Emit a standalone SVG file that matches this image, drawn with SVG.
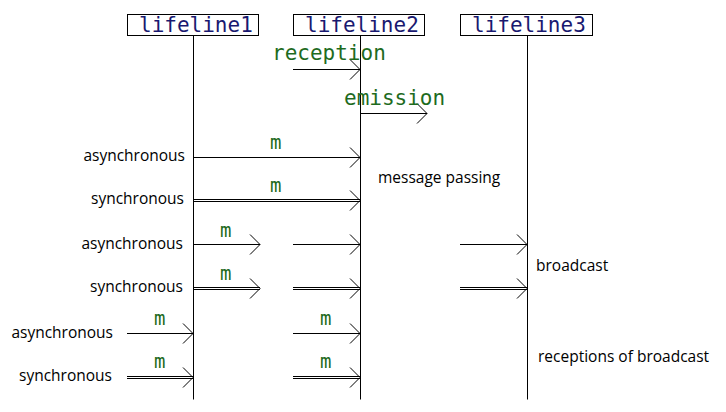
<svg xmlns="http://www.w3.org/2000/svg" width="726" height="412" viewBox="0 0 726 412">
<style>
.box{fill:#fff;stroke:#000;stroke-width:1}
.life{stroke:#000;stroke-width:1}
.ln{stroke:#000;stroke-width:1;fill:none}
.head{stroke:#000;stroke-width:1;fill:none}
.lt{font-family:"DejaVu Sans Mono",monospace;font-size:21px;fill:#191970}
.g{font-family:"DejaVu Sans Mono",monospace;font-size:21px;fill:#1e6b1e}
.m{font-family:"DejaVu Sans Mono",monospace;font-size:19px;fill:#1e6b1e}
.t{font-family:"Open Sans","Noto Sans",sans-serif;font-size:15.5px;fill:#000}
</style>
<rect width="726" height="412" fill="#fff"/>
<g id="lifeline1">
<line class="life" x1="193.5" y1="35.5" x2="193.5" y2="399.5"/>
<rect class="box" x="127.5" y="14.5" width="131" height="21"/>
<text class="lt" x="139" y="31.5">lifeline1</text>
</g>
<g id="lifeline2">
<line class="life" x1="360.5" y1="35.5" x2="360.5" y2="399.5"/>
<rect class="box" x="293.5" y="14.5" width="131" height="21"/>
<text class="lt" x="305" y="31.5">lifeline2</text>
</g>
<g id="lifeline3">
<line class="life" x1="527.5" y1="35.5" x2="527.5" y2="399.5"/>
<rect class="box" x="460.5" y="14.5" width="132" height="21"/>
<text class="lt" x="472" y="31.5">lifeline3</text>
</g>
<g id="connectors">
<line class="ln" x1="293" y1="69.5" x2="360" y2="69.5"/>
<polyline class="head" points="350,59.5 360,69.5 350,79.5"/>
<line class="ln" x1="361" y1="113.5" x2="427" y2="113.5"/>
<polyline class="head" points="417,103.5 427,113.5 417,123.5"/>
<line class="ln" x1="194" y1="157.5" x2="360" y2="157.5"/>
<polyline class="head" points="350,147.5 360,157.5 350,167.5"/>
<line class="ln" x1="194" y1="199.5" x2="360" y2="199.5"/>
<line class="ln" x1="194" y1="201.5" x2="360" y2="201.5"/>
<polyline class="head" points="350,190.5 360,200.5 350,210.5"/>
<line class="ln" x1="194" y1="244.5" x2="260" y2="244.5"/>
<polyline class="head" points="250,234.5 260,244.5 250,254.5"/>
<line class="ln" x1="293" y1="244.5" x2="360" y2="244.5"/>
<polyline class="head" points="350,234.5 360,244.5 350,254.5"/>
<line class="ln" x1="460" y1="244.5" x2="527" y2="244.5"/>
<polyline class="head" points="517,234.5 527,244.5 517,254.5"/>
<line class="ln" x1="194" y1="287.5" x2="260" y2="287.5"/>
<line class="ln" x1="194" y1="289.5" x2="260" y2="289.5"/>
<polyline class="head" points="250,278.5 260,288.5 250,298.5"/>
<line class="ln" x1="293" y1="287.5" x2="360" y2="287.5"/>
<line class="ln" x1="293" y1="289.5" x2="360" y2="289.5"/>
<polyline class="head" points="350,278.5 360,288.5 350,298.5"/>
<line class="ln" x1="460" y1="287.5" x2="527" y2="287.5"/>
<line class="ln" x1="460" y1="289.5" x2="527" y2="289.5"/>
<polyline class="head" points="517,278.5 527,288.5 517,298.5"/>
<line class="ln" x1="127" y1="333.5" x2="193" y2="333.5"/>
<polyline class="head" points="183,323.5 193,333.5 183,343.5"/>
<line class="ln" x1="293" y1="333.5" x2="360" y2="333.5"/>
<polyline class="head" points="350,323.5 360,333.5 350,343.5"/>
<line class="ln" x1="127" y1="376.5" x2="193" y2="376.5"/>
<line class="ln" x1="127" y1="378.5" x2="193" y2="378.5"/>
<polyline class="head" points="183,367.5 193,377.5 183,387.5"/>
<line class="ln" x1="293" y1="376.5" x2="360" y2="376.5"/>
<line class="ln" x1="293" y1="378.5" x2="360" y2="378.5"/>
<polyline class="head" points="350,367.5 360,377.5 350,387.5"/>
</g>
<g id="labels">
<text class="g" x="272" y="60">reception</text>
<text class="g" x="344" y="105">emission</text>
<text class="m" x="270" y="149">m</text>
<text class="m" x="270" y="192">m</text>
<text class="m" x="220" y="237">m</text>
<text class="m" x="220" y="280">m</text>
<text class="m" x="154" y="325">m</text>
<text class="m" x="154" y="368">m</text>
<text class="m" x="320" y="325">m</text>
<text class="m" x="320" y="368">m</text>
<text class="t" x="185" y="161" text-anchor="end">asynchronous</text>
<text class="t" x="184" y="204" text-anchor="end">synchronous</text>
<text class="t" x="183" y="249" text-anchor="end">asynchronous</text>
<text class="t" x="183" y="292" text-anchor="end">synchronous</text>
<text class="t" x="113" y="338" text-anchor="end">asynchronous</text>
<text class="t" x="112" y="381" text-anchor="end">synchronous</text>
<text class="t" x="378" y="183">message passing</text>
<text class="t" x="536" y="271">broadcast</text>
<text class="t" x="538" y="362">receptions of broadcast</text>
</g>
</svg>
